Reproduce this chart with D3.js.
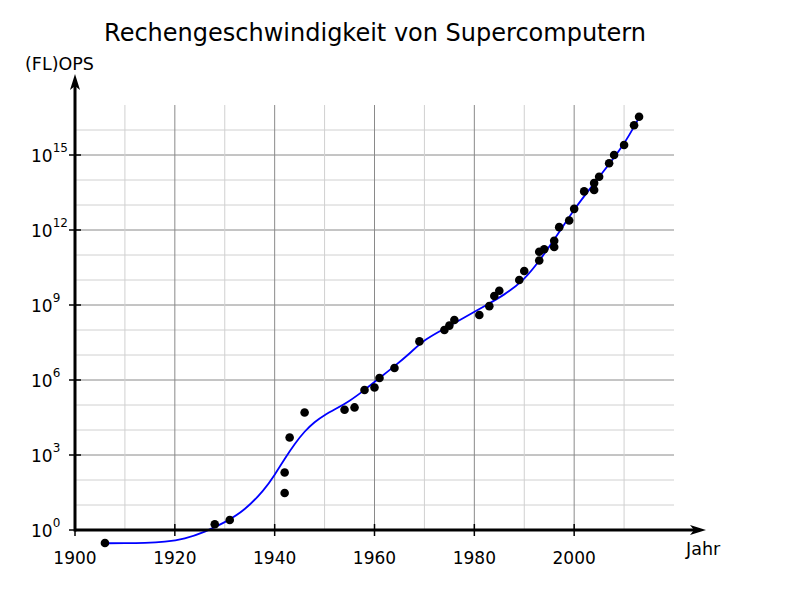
<!DOCTYPE html>
<html>
<head>
<meta charset="utf-8">
<script src="https://cdn.jsdelivr.net/npm/d3@7"></script>
<style>
  html, body { margin: 0; padding: 0; background: #fff; }
  svg { display: block; font-family: "DejaVu Sans", sans-serif; }
</style>
</head>
<body>
<svg id="chart" width="800" height="600"></svg>
<script>
// ---- Data ----
const pointYears = [1906, 1928, 1931, 1942, 1942, 1943, 1946, 1954, 1956, 1958, 1960, 1961, 1964, 1969,
  1974, 1975, 1976, 1981, 1983, 1984, 1985, 1989, 1990, 1993, 1993, 1994, 1996, 1996, 1997, 1999,
  2000, 2002, 2004, 2004, 2005, 2007, 2008, 2010, 2012, 2013];
const pointFlops = [0.3, 1.7, 2.5, 30, 200, 5e3, 5e4, 6.5e4, 8e4, 4e5, 5e5, 1.2e6, 3e6, 3.5e7,
  1e8, 1.5e8, 2.5e8, 4e8, 9e8, 2.3e9, 3.7e9, 1e10, 2.3e10, 6e10, 1.35e11, 1.7e11, 2.1e11, 3.7e11, 1.3e12, 2.4e12,
  7e12, 3.5e13, 4e13, 7.5e13, 1.35e14, 4.7e14, 1e15, 2.5e15, 1.55e16, 3.4e16];

const curveYears = [1906, 1910, 1914, 1918, 1922, 1926, 1930, 1934, 1938, 1940, 1942, 1944, 1946, 1948,
  1950, 1952, 1955, 1958, 1961, 1964, 1967, 1970, 1974, 1978, 1982, 1986, 1990, 1993, 1997, 2000,
  2005, 2010, 2013];
const curveLog10 = [-0.53, -0.53, -0.52, -0.48, -0.36, -0.08, 0.3, 0.78, 1.62, 2.2, 2.85, 3.45, 3.95, 4.33,
  4.6, 4.82, 5.15, 5.6, 6.08, 6.55, 7.05, 7.62, 8.05, 8.5, 8.95, 9.4, 10.0, 10.75, 11.9, 12.85,
  14.12, 15.4, 16.5];

const xTickYears = [1900, 1920, 1940, 1960, 1980, 2000];
const yTickExponents = [0, 3, 6, 9, 12, 15];
const title = "Rechengeschwindigkeit von Supercomputern";
const yLabel = "(FL)OPS";
const xLabel = "Jahr";

// ---- Layout ----
const svg = d3.select("#chart");
const x = d3.scaleLinear().domain([1900, 2020]).range([75, 674]);
const y = d3.scaleLog().domain([1, 1e17]).range([530, 105]);

const gridTop = y(1e17), gridBottom = y(1), gridLeft = x(1900), gridRight = x(2020);

// Grid: horizontal (every decade, darker every 3)
const decades = d3.range(1, 17);
svg.append("g").selectAll("line").data(decades).join("line")
  .attr("x1", gridLeft).attr("x2", gridRight)
  .attr("y1", d => y(Math.pow(10, d))).attr("y2", d => y(Math.pow(10, d)))
  .attr("stroke", d => d % 3 === 0 ? "#8a8a8a" : "#d0d0d0")
  .attr("stroke-width", 1);

// Grid: vertical (every 10 years, darker every 20)
const gridYears = d3.range(1910, 2020, 10);
svg.append("g").selectAll("line").data(gridYears).join("line")
  .attr("x1", d => x(d)).attr("x2", d => x(d))
  .attr("y1", gridTop).attr("y2", gridBottom)
  .attr("stroke", d => d % 20 === 0 ? "#8a8a8a" : "#d0d0d0")
  .attr("stroke-width", 1);

// Fitted curve
const line = d3.line()
  .x((d, i) => x(curveYears[i]))
  .y(d => y(Math.pow(10, d)))
  .curve(d3.curveBasis);
svg.append("path")
  .attr("d", line(curveLog10))
  .attr("fill", "none")
  .attr("stroke", "#0000ff")
  .attr("stroke-width", 1.8);

// Axes
const axisColor = "#000";
svg.append("line").attr("x1", x(1900)).attr("x2", 700)
  .attr("y1", y(1)).attr("y2", y(1))
  .attr("stroke", axisColor).attr("stroke-width", 3);
svg.append("line").attr("x1", x(1900)).attr("x2", x(1900))
  .attr("y1", y(1) + 1.5).attr("y2", 80)
  .attr("stroke", axisColor).attr("stroke-width", 3);

// Arrowheads
svg.append("path")
  .attr("d", `M706,${y(1)} L690,${y(1) - 5} L694,${y(1)} L690,${y(1) + 5} Z`)
  .attr("fill", axisColor);
svg.append("path")
  .attr("d", `M${x(1900)},74 L${x(1900) - 5},90 L${x(1900)},86 L${x(1900) + 5},90 Z`)
  .attr("fill", axisColor);

// X ticks
svg.append("g").selectAll("line").data(xTickYears).join("line")
  .attr("x1", d => x(d)).attr("x2", d => x(d))
  .attr("y1", y(1) - 6).attr("y2", y(1) + 6)
  .attr("stroke", axisColor).attr("stroke-width", 1.5);
svg.append("g").selectAll("text").data(xTickYears).join("text")
  .attr("x", d => x(d)).attr("y", 564)
  .attr("text-anchor", "middle")
  .attr("font-size", 17)
  .text(d => d);

// Y ticks
svg.append("g").selectAll("line").data(yTickExponents).join("line")
  .attr("x1", x(1900) - 6).attr("x2", x(1900) + 6)
  .attr("y1", d => y(Math.pow(10, d))).attr("y2", d => y(Math.pow(10, d)))
  .attr("stroke", axisColor).attr("stroke-width", 1.5);
const yt = svg.append("g").selectAll("text").data(yTickExponents).join("text")
  .attr("x", 31).attr("y", d => y(Math.pow(10, d)) + 7)
  .attr("font-size", 17);
yt.append("tspan").text("10");
yt.append("tspan").attr("dy", -10).attr("font-size", 12).text(d => d);

// Points
svg.append("g").selectAll("circle").data(pointFlops).join("circle")
  .attr("cx", (d, i) => x(pointYears[i]))
  .attr("cy", d => y(d))
  .attr("r", 4.3)
  .attr("fill", "#000");

// Labels
svg.append("text").attr("x", 375).attr("y", 41)
  .attr("text-anchor", "middle").attr("font-size", 24).text(title);
svg.append("text").attr("x", 25).attr("y", 70)
  .attr("font-size", 17.5).text(yLabel);
svg.append("text").attr("x", 686).attr("y", 555)
  .attr("font-size", 17.5).text(xLabel);
</script>
</body>
</html>
